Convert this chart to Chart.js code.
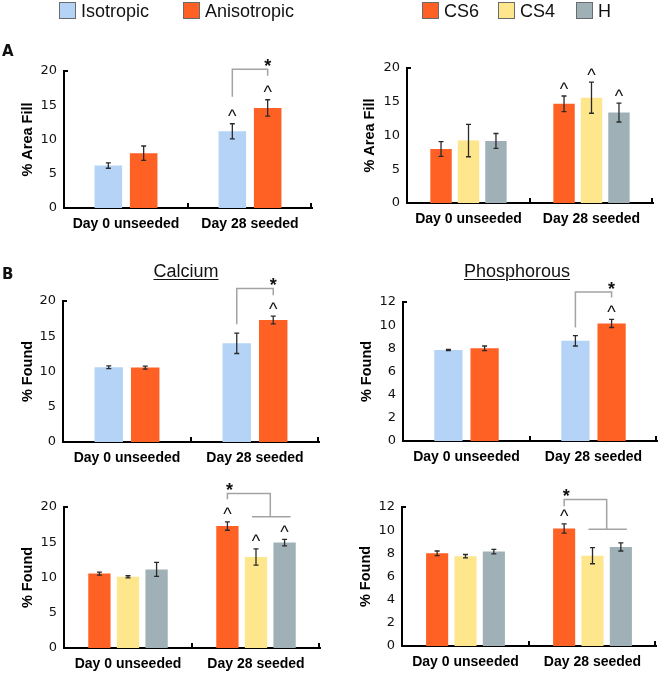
<!DOCTYPE html>
<html><head><meta charset="utf-8">
<script src="https://cdn.jsdelivr.net/npm/chart.js@4.4.0/dist/chart.umd.min.js"></script>
<style>
html,body{margin:0;padding:0;background:#fff;}
#page{position:relative;width:661px;height:675px;overflow:hidden;font-family:"Liberation Sans",Arial,sans-serif;color:#111;}
canvas{position:absolute;}
.sw{position:absolute;width:15px;height:15px;border:1px solid #6b6b6b;}
.lt{position:absolute;font-size:18px;line-height:18px;white-space:nowrap;}
.ttl{position:absolute;font-size:18px;line-height:18px;text-decoration:underline;text-underline-offset:2px;text-decoration-thickness:1px;white-space:nowrap;transform:translateX(-50%);}
.letter{position:absolute;font-family:"DejaVu Sans",sans-serif;font-weight:bold;font-size:15px;line-height:15px;}
</style></head>
<body><div id="page"></div>
<script>
// ---------------- DATA ----------------
const categories = ["Day 0 unseeded", "Day 28 seeded"];
const scaffoldNames = ["Isotropic", "Anisotropic"];
const csNames = ["CS6", "CS4", "H"];

// A (left): % Area Fill, isotropic vs anisotropic
const areaIso = [6.2, 11.2];
const areaIsoErr = [0.4, 1.1];
const areaIsoSig = [false, true];
const areaAniso = [8.0, 14.6];
const areaAnisoErr = [1.05, 1.2];
const areaAnisoSig = [false, true];

// A (right): % Area Fill, CS6 / CS4 / H
const areaCS6 = [8.0, 14.7];
const areaCS6Err = [1.1, 1.15];
const areaCS6Sig = [false, true];
const areaCS4 = [9.25, 15.6];
const areaCS4Err = [2.4, 2.3];
const areaCS4Sig = [false, true];
const areaH = [9.2, 13.4];
const areaHErr = [1.1, 1.4];
const areaHSig = [false, true];

// B: Calcium, isotropic vs anisotropic
const caIso = [10.6, 14.0];
const caIsoErr = [0.2, 1.45];
const caIsoSig = [false, false];
const caAniso = [10.55, 17.3];
const caAnisoErr = [0.2, 0.55];
const caAnisoSig = [false, true];

// B: Phosphorous, isotropic vs anisotropic
const pIso = [7.85, 8.65];
const pIsoErr = [0.05, 0.45];
const pIsoSig = [false, false];
const pAniso = [8.0, 10.15];
const pAnisoErr = [0.2, 0.35];
const pAnisoSig = [false, true];

// B: Calcium, CS6 / CS4 / H
const caCS6 = [10.55, 17.3];
const caCS6Err = [0.2, 0.6];
const caCS6Sig = [false, true];
const caCS4 = [10.1, 12.9];
const caCS4Err = [0.15, 1.15];
const caCS4Sig = [false, true];
const caH = [11.15, 14.95];
const caHErr = [1.0, 0.45];
const caHSig = [false, true];

// B: Phosphorous, CS6 / CS4 / H
const pCS6 = [8.0, 10.15];
const pCS6Err = [0.2, 0.4];
const pCS6Sig = [false, true];
const pCS4 = [7.75, 7.8];
const pCS4Err = [0.15, 0.7];
const pCS4Sig = [false, false];
const pH = [8.15, 8.55];
const pHErr = [0.2, 0.35];
const pHSig = [false, false];

// y-axis ticks
const areaTicks = [0, 5, 10, 15, 20];
const caTicks = [0, 5, 10, 15, 20];
const pTicks = [0, 2, 4, 6, 8, 10, 12];

// significance brackets (values in data units), category index 1
const areaScaffoldBracket = {cat: 1, a: [0], b: [1], top: 20.25, aEnd: 16.25, bEnd: 19.3, star: "b"};
const caScaffoldBracket = {cat: 1, a: [0], b: [1], top: 21.76, aEnd: 16.7, bEnd: 20.8, star: "b"};
const pScaffoldBracket = {cat: 1, a: [0], b: [1], top: 12.87, aEnd: 9.8, bEnd: 12.39, star: "b"};
const caCSBracket = {cat: 1, a: [0], b: [1, 2], top: 21.9, aEnd: 21.1, bEnd: 18.6, star: "a"};
const pCSBracket = {cat: 1, a: [0], b: [1, 2], top: 12.64, aEnd: 12.06, bEnd: 10.08, star: "a"};

// ---------------- STYLE ----------------
const COLORS = {Isotropic: "#b4d3f7", Anisotropic: "#ff6125", CS6: "#ff6125", CS4: "#fde68c", H: "#9fb1b6"};
const FONT = "'Liberation Sans', Arial, sans-serif";
Chart.defaults.font.family = FONT;
Chart.defaults.color = "#000";

const page = document.getElementById("page");

function ser(name, values, errors, sig) { return {name, values, errors, sig}; }

const panels = [
  {title: "% Area Fill", ticks: areaTicks, bracket: areaScaffoldBracket,
   series: [ser(scaffoldNames[0], areaIso, areaIsoErr, areaIsoSig), ser(scaffoldNames[1], areaAniso, areaAnisoErr, areaAnisoSig)],
   L: {left: 0, top: 0, w: 330, h: 240, pad: {left: 19.5, top: 71, right: 18, bottom: 0}, yW: 44.5, xH: 32, cp: 0.57}},
  {title: "% Area Fill", ticks: areaTicks, bracket: null,
   series: [ser(csNames[0], areaCS6, areaCS6Err, areaCS6Sig), ser(csNames[1], areaCS4, areaCS4Err, areaCS4Sig), ser(csNames[2], areaH, areaHErr, areaHSig)],
   L: {left: 330, top: 0, w: 331, h: 240, pad: {left: 31.5, top: 68, right: 8, bottom: 0}, yW: 45.5, xH: 37, cp: 0.67}},
  {title: "% Found", ticks: caTicks, bracket: caScaffoldBracket,
   series: [ser(scaffoldNames[0], caIso, caIsoErr, caIsoSig), ser(scaffoldNames[1], caAniso, caAnisoErr, caAnisoSig)],
   L: {left: 0, top: 240, w: 330, h: 230, pad: {left: 19, top: 61, right: 11, bottom: 0}, yW: 44, xH: 28, cp: 0.57}},
  {title: "% Found", ticks: pTicks, bracket: pScaffoldBracket,
   series: [ser(scaffoldNames[0], pIso, pIsoErr, pIsoSig), ser(scaffoldNames[1], pAniso, pAnisoErr, pAnisoSig)],
   L: {left: 330, top: 240, w: 331, h: 230, pad: {left: 28, top: 62, right: 4, bottom: 0}, yW: 45, xH: 29, cp: 0.57}},
  {title: "% Found", ticks: caTicks, bracket: caCSBracket,
   series: [ser(csNames[0], caCS6, caCS6Err, caCS6Sig), ser(csNames[1], caCS4, caCS4Err, caCS4Sig), ser(csNames[2], caH, caHErr, caHSig)],
   L: {left: 0, top: 470, w: 330, h: 205, pad: {left: 19, top: 37, right: 10, bottom: 0}, yW: 45, xH: 27, cp: 0.67}},
  {title: "% Found", ticks: pTicks, bracket: pCSBracket,
   series: [ser(csNames[0], pCS6, pCS6Err, pCS6Sig), ser(csNames[1], pCS4, pCS4Err, pCS4Sig), ser(csNames[2], pH, pHErr, pHSig)],
   L: {left: 330, top: 470, w: 331, h: 205, pad: {left: 27, top: 37, right: 5, bottom: 0}, yW: 45, xH: 29, cp: 0.67}},
];

// ---------------- DECORATION PLUGIN ----------------
const decor = {
  id: "decor",
  afterDraw(chart) {
    const {ctx, chartArea: a, scales: {x, y}} = chart;
    const cfg = chart.options.plugins.decor;
    ctx.save();
    // axis hooks (inside ticks)
    ctx.strokeStyle = "#000"; ctx.lineWidth = 2;
    ctx.beginPath();
    ctx.moveTo(a.left, a.top); ctx.lineTo(a.left + 4, a.top);
    const n = x.ticks.length, cw = (a.right - a.left) / n;
    for (let k = 1; k <= n; k++) {
      const px = Math.round(a.left + k * cw) - (k === n ? 1 : 0);
      ctx.moveTo(px, a.bottom); ctx.lineTo(px, a.bottom - 5);
    }
    ctx.stroke();
    // error bars + carets
    const centers = [];
    chart.data.datasets.forEach((ds, di) => {
      const meta = chart.getDatasetMeta(di);
      centers[di] = meta.data.map(el => el.x);
      meta.data.forEach((el, i) => {
        const v = ds.data[i], e = ds.errors[i];
        const y1 = y.getPixelForValue(v + e), y2 = y.getPixelForValue(v - e);
        ctx.strokeStyle = "#2a2a2a"; ctx.lineWidth = 1.3;
        ctx.beginPath();
        ctx.moveTo(el.x, y1); ctx.lineTo(el.x, y2);
        ctx.moveTo(el.x - 2.5, y1); ctx.lineTo(el.x + 2.5, y1);
        ctx.moveTo(el.x - 2.5, y2); ctx.lineTo(el.x + 2.5, y2);
        ctx.stroke();
        if (ds.sig[i]) {
          ctx.fillStyle = "#111";
          ctx.font = "18px " + FONT;
          ctx.textAlign = "center"; ctx.textBaseline = "alphabetic";
          ctx.fillText("^", el.x, y1 - 11 + 9.5);
        }
      });
    });
    // bracket
    const b = cfg.bracket;
    if (b) {
      const xa = b.a.reduce((s, k) => s + centers[k][b.cat], 0) / b.a.length;
      const xb = b.b.reduce((s, k) => s + centers[k][b.cat], 0) / b.b.length;
      const yt = y.getPixelForValue(b.top), ya = y.getPixelForValue(b.aEnd), yb = y.getPixelForValue(b.bEnd);
      ctx.strokeStyle = "#a3a3a3"; ctx.lineWidth = 1.5;
      ctx.beginPath();
      ctx.moveTo(xa, ya); ctx.lineTo(xa, yt); ctx.lineTo(xb, yt); ctx.lineTo(xb, yb);
      if (b.b.length > 1) {
        const xs = b.b.map(k => centers[k][b.cat]);
        ctx.moveTo(Math.min(...xs) - 4, yb); ctx.lineTo(Math.max(...xs) + 6, yb);
      }
      ctx.stroke();
      ctx.fillStyle = "#111";
      ctx.font = "bold 18px " + FONT;
      ctx.textAlign = "center"; ctx.textBaseline = "alphabetic";
      const sx = b.star === "a" ? xa + 2 : xb;
      ctx.fillText("*", sx, yt - 7.5 + 10.3);
    }
    ctx.restore();
  }
};

// ---------------- BUILD CHARTS ----------------
panels.forEach(p => {
  const L = p.L;
  const cv = document.createElement("canvas");
  cv.width = L.w; cv.height = L.h;
  cv.style.left = L.left + "px"; cv.style.top = L.top + "px";
  cv.style.width = L.w + "px"; cv.style.height = L.h + "px";
  page.appendChild(cv);
  const yMax = p.ticks[p.ticks.length - 1];
  const step = p.ticks[1] - p.ticks[0];
  new Chart(cv.getContext("2d"), {
    type: "bar",
    data: {
      labels: categories,
      datasets: p.series.map(s => ({
        label: s.name, data: s.values, errors: s.errors, sig: s.sig,
        backgroundColor: COLORS[s.name], borderWidth: 0,
        categoryPercentage: L.cp, barPercentage: 0.78
      }))
    },
    options: {
      responsive: false, animation: false, devicePixelRatio: 1,
      layout: {padding: L.pad},
      plugins: {legend: {display: false}, tooltip: {enabled: false}, decor: {bracket: p.bracket}},
      scales: {
        x: {
          grid: {display: false, drawTicks: false},
          border: {display: true, color: "#000", width: 2},
          ticks: {font: {size: 14, weight: "bold"}, color: "#000", padding: 7.5},
          afterFit: s => { s.height = L.xH; }
        },
        y: {
          min: 0, max: yMax,
          grid: {display: false, drawTicks: false},
          border: {display: true, color: "#000", width: 2},
          ticks: {stepSize: step, font: {size: 13, family: "'DejaVu Sans', sans-serif"}, color: "#111", padding: 7},
          title: {display: true, text: p.title, font: {size: 14.5, weight: "bold"}, color: "#000", padding: 0},
          afterFit: s => { s.width = L.yW; }
        }
      }
    },
    plugins: [decor]
  });
});

// ---------------- LEGENDS, TITLES, LETTERS ----------------
const legendLayout = [
  {name: scaffoldNames[0], x: 59}, {name: scaffoldNames[1], x: 183},
  {name: csNames[0], x: 422}, {name: csNames[1], x: 498}, {name: csNames[2], x: 576}
];
legendLayout.forEach(it => {
  const sw = document.createElement("div");
  sw.className = "sw"; sw.style.left = it.x + "px"; sw.style.top = "2px";
  sw.style.background = COLORS[it.name];
  page.appendChild(sw);
  const t = document.createElement("div");
  t.className = "lt"; t.style.left = (it.x + 22) + "px"; t.style.top = "2px";
  t.textContent = it.name;
  page.appendChild(t);
});
[{text: "Calcium", x: 186, y: 261.5}, {text: "Phosphorous", x: 517, y: 261.5}].forEach(t => {
  const d = document.createElement("div");
  d.className = "ttl"; d.style.left = t.x + "px"; d.style.top = t.y + "px";
  d.textContent = t.text; page.appendChild(d);
});
[{text: "A", x: 2, y: 44}, {text: "B", x: 2, y: 267}].forEach(t => {
  const d = document.createElement("div");
  d.className = "letter"; d.style.left = t.x + "px"; d.style.top = t.y + "px";
  d.textContent = t.text; page.appendChild(d);
});
</script>
</body></html>
